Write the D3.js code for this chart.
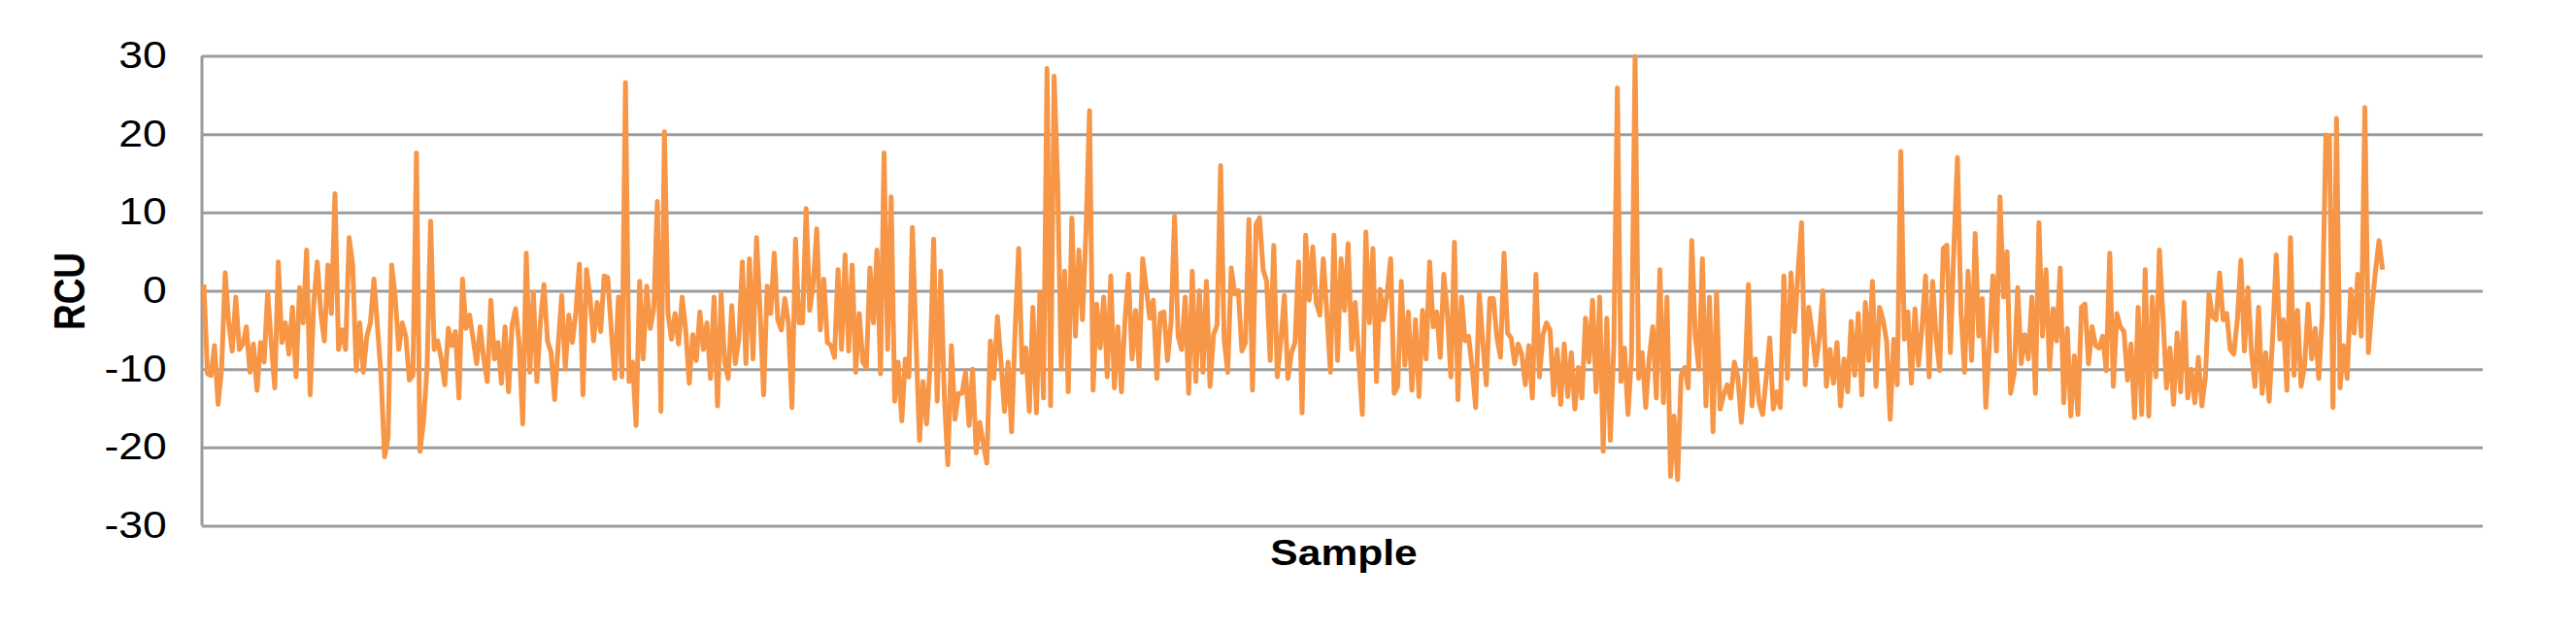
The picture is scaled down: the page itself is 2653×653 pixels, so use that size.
<!DOCTYPE html>
<html>
<head>
<meta charset="utf-8">
<script src="https://cdn.jsdelivr.net/npm/d3@7"></script>
<style>
  html, body { margin: 0; padding: 0; background: #fff; }
  svg { display: block; }
  text { font-family: "Liberation Sans", Arial, sans-serif; fill: #000; }
</style>
</head>
<body>
<svg id="chart" width="2653" height="653"></svg>
<script>
// RCU readings left to right (one chunk per stretch of the x axis)
var rcuPart1 = [0.8, -10.6, -10.8, -7, -14.5, -10, 2.3, -4, -7.7, -0.8, -7.5, -6.8, -4.6, -10.4, -6.8, -12.7, -6.6, -9.1, -0.2, -6.6, -12.4, 3.7, -6.6, -4.1, -8.1, -2.1, -11, 0.4, -4.1, 5.2, -13.3, -1.7, 3.7, -2.9, -6.4, 3.3, -2.9, 12.4, -7.5, -5, -7.5, 6.8, 3.3, -10.2, -4.1, -10.4, -5.8, -4.1, 1.5, -4.6, -10.8, -21.2, -18.7, 3.3, -0.8, -7.5, -4.1, -5.8, -11.4, -10.8, 17.6, -20.5, -16.6, -9.8, 8.9];
var rcuPart2 = [-7.5, -6.4, -8.7, -12, -4.8, -7, -5.2, -13.7, 1.5, -4.8, -3.1, -6.2, -9.3, -4.6, -8.7, -11.6, -1.2, -8.7, -6.6, -11.8, -4.6, -12.9, -4.4, -2.3, -6.8, -17, 4.8, -10.4, -0.2, -11.6, -3.9, 0.8, -6.4, -7.9, -13.9, -7, -0.6, -10, -3.1, -6.6, -2.7, 3.4, -13.3, 2.7, -0.8, -6.4, -1.5, -5.2, 1.9, 1.7, -5, -11.2, -0.8, -11, 26.6, -11.6, -9.1, -17.2, 1.2, -8.7, 0.6, -4.8, -2.3, 11.4, -15.4, 20.3, -2.9];
var rcuPart3 = [-6.2, -2.9, -6.8, -0.8, -5, -11.8, -5.6, -8.9, -2.7, -7.5, -4.1, -11.2, -0.8, -14.7, -0.4, -9.1, -11.2, -1.9, -9.3, -6.2, 3.7, -9.3, 4.1, -8.7, 6.8, -2.7, -13.3, 0.6, -2.9, 4.8, -3.7, -5, -1, -4.1, -14.9, 6.6, -4.1, -4.1, 10.5, -2.5, 0.8, 7.9, -5, 1.5, -6.6, -7, -8.5, 2.7, -7.5, 4.6, -7.7, 3.3, -10.4, -2.9, -9.1, -9.8, 2.9, -4.1, 5.2, -10.6, 17.6, -7.5, 12, -14.1];
var rcuPart4 = [-9.1, -16.6, -8.7, -11, 8.1, -6.2, -19.1, -11.6, -17, -9.5, 6.6, -14.1, 2.5, -13.3, -22.2, -7, -16.4, -13.1, -13.1, -10.4, -17.2, -10, -20.7, -16.8, -19.5, -22, -6.4, -11.2, -3.3, -9.1, -15.4, -9.1, -18, -5, 5.4, -10.4, -7.3, -15.4, -2.1, -15.6, -0.2, -13.7, 28.4, -14.7, 27.4, 13.7, -10, 2.5, -12.9, 9.3, -5.8, 5.2, -3.7, 7.5, 23, -12.7, -1.7, -7.3, -0.8, -11, 1.9, -12.4, -4.6, -12.9, -3.7, 2.1, -8.7, -2.5, -9.8, 4.1, 0.4, -3.5, -1.2, -11.2, -2.9];
var rcuPart5 = [-2.7, -8.9, -4.1, 9.5, -5.8, -7.5, -0.8, -13.1, 2.5, -11.6, 0, -10.4, 1.2, -12.2, -5.6, -4.4, 16, -6.2, -10.4, 2.9, -0.4, 0, -7.7, -6.6, 9.1, -12.7, 8.5, 9.3, 2.7, 1.2, -8.9, 5.8, -11, -6.4, -0.6, -11.2, -7.9, -6.6, 3.7, -15.6, 7.1, -1.2, 5.6, -1.5, -3.1, 4.1, -2.9, -10.4, 7.1, -8.9, 4.1, -2.5, 6, -7.5, -1.5, -8.7, -15.8, 7.5, -4.1, 5.4, -11.6, 0.2, -3.7, -0.4, 4.1, -13.1, -12.2, 1.2, -9.5, -2.7, -12.7, -3.7, -13.5, -2.5, -8.7, 3.7];
var rcuPart6 = [-4.6, -2.7, -8.5, 2.1, -2.9, -11, 6.2, -13.9, -0.8, -6.4, -5.8, -9.8, -14.9, -0.4, -6.6, -12, -1, -1, -6, -8.5, 4.8, -5.4, -6, -9.3, -6.8, -8.1, -12, -7, -13.7, 2.1, -11, -5.6, -4.1, -5, -13.3, -7.5, -14.5, -6.8, -13.5, -7.9, -15.1, -9.8, -13.7, -3.5, -9.1, -1.2, -12.9, -0.8, -20.5, -3.5, -19.1, -7, 25.9, -11.6, -7.3, -15.8, -8.3, 29.9, -11.2, -7.9, -14.9, -8.5, -4.6, -13.7, 2.7, -14.3, -0.8, -23.7, -16, -24.1, -10.8, -9.8, -12.4, 6.4, -5.8];
var rcuPart7 = [-10, 4.1, -14.7, -0.8, -18, -0.2, -15.1, -13.3, -12, -13.7, -9.1, -11, -16.8, -11.2, 0.8, -14.7, -8.7, -14.3, -15.8, -11.2, -6, -15.1, -12.9, -14.9, 1.9, -11.2, 2.3, -5.2, 2.5, 8.7, -12, -2.1, -5.4, -9.5, -6, 0, -12.2, -7.5, -11.8, -6.6, -14.7, -8.7, -12.9, -3.9, -10.8, -2.9, -13.3, -1.5, -8.9, 1.2, -12.2, -2.1, -3.7, -6.4, -16.4, -6.2, -12, 17.8, -6.2, -2.7, -11.8, -2.3, -9.5, -4.6, 1.9, -11, 1.2, -6.2, -10.2, 5.4, 5.8, -7.9, 5.6, 17];
var rcuPart8 = [-2.9, -10.4, 2.5, -8.9, 7.3, -5.8, -1, -14.9, -7, 1.9, -7.7, 12, -0.8, 5, -13.1, -10.6, 0.4, -9.3, -5.6, -8.7, -0.8, -13.1, 8.7, -5.8, 2.7, -10, -2.3, -6.4, 2.9, -14.3, -4.8, -16, -8.3, -15.8, -2.1, -1.7, -9.3, -4.6, -7, -7.3, -5.8, -10.2, 4.8, -12.2, -2.9, -4.6, -5.2, -11.4, -6.8, -16.2, -2.1, -15.8, 2.7, -16, -0.8, -11, 5.2, -3.1, -12.4, -7.3, -14.5, -5.4, -12.9, -1.5, -13.7, -10, -14.3, -8.5, -14.7, -11, -0.4, -3.3, -3.7, 2.3];
var rcuPart9 = [-3.7, -2.9, -7.5, -8.1, -3.7, 3.9, -7.7, 0.4, -7.9, -12.2, -2.1, -13.1, -7.9, -14.1, -5.6, 4.6, -6.2, -3.7, -12.7, 6.8, -10.8, -2.5, -12.2, -9.5, -1.7, -8.7, -4.8, -11.2, -2.9, 19.9, 19.7, -14.9, 22, -12.4, -7, -11.2, 0.2, -5.4, 2.1, -5.8, 23.4, -7.9, -2.1, 2.5, 6.4, 2.7];

var yTicks = [-30, -20, -10, 0, 10, 20, 30];
var yLabel = "RCU";
var xLabel = "Sample";

var rcu = [].concat(rcuPart1, rcuPart2, rcuPart3, rcuPart4, rcuPart5, rcuPart6, rcuPart7, rcuPart8, rcuPart9);
// the category axis runs a little past the last sample
var sampleAxisMax = (rcu.length - 1) * 1.046;

var margin = {left: 208, top: 57.5, right: 96, bottom: 111.5};
var width = 2653 - margin.left - margin.right;
var height = 653 - margin.top - margin.bottom;

var svg = d3.select("#chart");
var g = svg.append("g").attr("transform", "translate(" + margin.left + "," + margin.top + ")");

var x = d3.scaleLinear().domain([0, sampleAxisMax]).range([2, width]);
var y = d3.scaleLinear().domain([-30, 30]).range([height, 0]);

// horizontal gridlines
g.append("g")
  .attr("class", "grid")
  .call(d3.axisLeft(y).tickValues(yTicks).tickSize(-width).tickFormat(""))
  .call(function(s){
    s.select(".domain").remove();
    s.selectAll("line").attr("stroke", "#9c9c9c").attr("stroke-width", 3);
  });

// left axis line
g.append("line")
  .attr("x1", 0).attr("x2", 0)
  .attr("y1", y(30)).attr("y2", y(-30))
  .attr("stroke", "#9c9c9c").attr("stroke-width", 3);

// tick labels (plain hyphen for negatives, as in the original)
g.append("g")
  .call(d3.axisLeft(y).tickValues(yTicks).tickSize(0).tickPadding(0).tickFormat(function(d){ return String(d); }))
  .call(function(s){
    s.select(".domain").remove();
    s.selectAll("text")
      .attr("x", -31)
      .attr("transform", "scale(1.17,1)")
      .style("font-size", "38px")
      .style("font-family", "'Liberation Sans', Arial, sans-serif")
      .attr("fill", "#111");
  });

// the series
var line = d3.line()
  .x(function(d, i){ return x(i); })
  .y(function(d){ return y(d); });

g.append("path")
  .datum(rcu)
  .attr("d", line)
  .attr("fill", "none")
  .attr("stroke", "#F79646")
  .attr("stroke-width", 5)
  .attr("stroke-linejoin", "round");

// axis titles
svg.append("g")
  .attr("transform", "translate(1384,582) scale(1.15,1)")
  .append("text")
  .attr("text-anchor", "middle")
  .style("font-size", "37px")
  .style("font-weight", "bold")
  .text(xLabel);

svg.append("g")
  .attr("transform", "translate(71,300) scale(1.2,1) rotate(-90)")
  .append("text")
  .attr("text-anchor", "middle")
  .attr("dy", "0.35em")
  .style("font-size", "37px")
  .style("font-weight", "bold")
  .text(yLabel);
</script>
</body>
</html>
